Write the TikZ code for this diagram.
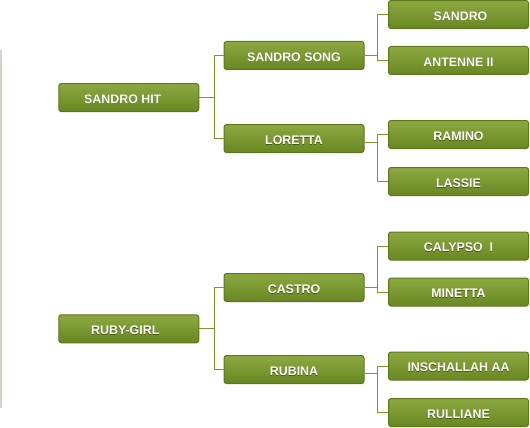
\documentclass[tikz,border=0pt]{standalone}
\usepackage{fontspec}
\setmainfont{Liberation Sans}
\usetikzlibrary{calc}
\definecolor{boxtop}{RGB}{141,168,64}
\definecolor{boxbot}{RGB}{104,135,34}
\definecolor{boxline}{RGB}{92,120,26}
\definecolor{conn}{RGB}{120,152,40}
\definecolor{sidebar}{RGB}{214,210,202}
\definecolor{txtshadow}{RGB}{70,90,20}
\newcommand{\shtxt}[1]{\makebox[0pt][l]{\raisebox{-0.7pt}{\textcolor{txtshadow}{#1}}}#1}
\tikzset{
  pedbox/.style={draw=boxline, line width=1pt, rounded corners=2.5pt,
    top color=boxtop, bottom color=boxbot, minimum width=140pt, minimum height=28pt,
    inner sep=0pt, text height=11.6pt, text depth=0pt, text=white,
    font=\fontsize{12.4}{14}\selectfont\bfseries},
  link/.style={draw=conn, line width=1pt}
}
\begin{document}
\begin{tikzpicture}[x=1pt,y=-1pt]
\useasboundingbox (0,0) rectangle (530,428);
\fill[sidebar] (0,50) rectangle (1.5,408);
% level 1
\node[pedbox] (sh) at (128.75,97.5) {\shtxt{SANDRO HIT}\hspace*{12pt}};
\node[pedbox] (rg) at (128.75,328.75) {\shtxt{RUBY-GIRL}\hspace*{7pt}};
% level 2
\node[pedbox] (ss) at (294,55.5) {\shtxt{SANDRO SONG}};
\node[pedbox] (lo) at (294,138.5) {\shtxt{LORETTA}};
\node[pedbox] (ca) at (294,287.5) {\shtxt{CASTRO}};
\node[pedbox] (ru) at (294,369.5) {\shtxt{RUBINA}};
% level 3
\node[pedbox] (sa) at (458.5,14.5) {\hspace*{4pt}\shtxt{SANDRO}};
\node[pedbox] (an) at (458.5,60.5) {\shtxt{ANTENNE II}};
\node[pedbox] (ra) at (458.5,134.5) {\shtxt{RAMINO}};
\node[pedbox] (la) at (458.5,181.5) {\shtxt{LASSIE}};
\node[pedbox] (cy) at (458.5,246) {\shtxt{CALYPSO\ \ I}};
\node[pedbox] (mi) at (458.5,292) {\shtxt{MINETTA}};
\node[pedbox] (in) at (458.5,366) {\shtxt{INSCHALLAH AA}};
\node[pedbox] (rl) at (458.5,412.5) {\shtxt{RULLIANE}};
% junctions
\coordinate (j1) at (214.5,97.5);
\coordinate (j2) at (214.5,328.75);
\coordinate (j3) at (377.5,55.5);
\coordinate (j4) at (377.5,142);
\coordinate (j5) at (377.5,287.5);
\coordinate (j6) at (377.5,373);
% connectors
\draw[link] (sh.east) -- (j1);
\draw[link] (ss.west) -| (j1) |- (lo.west);
\draw[link] (rg.east) -- (j2);
\draw[link] (ca.west) -| (j2) |- (ru.west);
\draw[link] (ss.east) -- (j3);
\draw[link] (sa.west) -| (j3) |- (an.west);
\draw[link] ([yshift=-3.5pt]lo.east) -- (j4);
\draw[link] (ra.west) -| (j4) |- (la.west);
\draw[link] (ca.east) -- (j5);
\draw[link] (cy.west) -| (j5) |- (mi.west);
\draw[link] ([yshift=-3.5pt]ru.east) -- (j6);
\draw[link] (in.west) -| (j6) |- (rl.west);
\end{tikzpicture}
\end{document}
